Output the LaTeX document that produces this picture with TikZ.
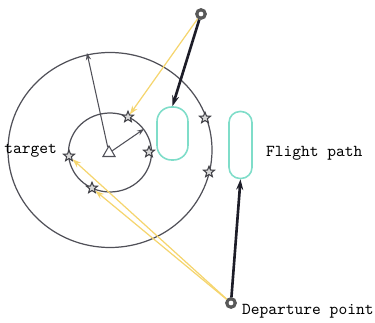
\documentclass[tikz,border=0pt]{standalone}
\usepackage{tikz}
\usetikzlibrary{arrows.meta, shapes.geometric}

\definecolor{ringgray}{HTML}{505058}
\definecolor{pathteal}{HTML}{7FDDC9}
\definecolor{lineyellow}{HTML}{F5D56E}
\definecolor{darkline}{HTML}{1D1D28}

\begin{document}
\begin{tikzpicture}[x=0.02cm, y=-0.02cm,
  sat/.style={star, star points=5, star point ratio=2.3, draw=ringgray!80!black, fill=gray!30, line width=0.6pt, minimum size=0.23cm, inner sep=0pt},
  waypoint/.style={circle, draw=gray!70!black, line width=1.8pt, minimum size=0.17cm, inner sep=0pt},
  flightbox/.style={draw=pathteal, line width=0.9pt, rectangle, inner sep=0pt},
  radius arrow/.style={draw=ringgray, line width=0.6pt, -{Stealth[length=4pt, width=3pt]}},
  aim/.style={draw=lineyellow, line width=0.7pt, -{Stealth[length=5pt, width=3.5pt]}},
  route/.style={draw=darkline, line width=1.5pt, -{Stealth[length=6pt, width=4pt]}},
  labeltext/.style={font=\ttfamily\fontsize{9.5}{11}\selectfont, text=black, inner sep=1pt}]
\useasboundingbox (0,0) rectangle (375,323);
\draw[ringgray, line width=0.7pt] (110,150) ellipse [x radius=102, y radius=97.5];
\draw[ringgray, line width=0.7pt] (110,152.5) ellipse [x radius=41.5, y radius=39.5];
\node[draw=ringgray, line width=0.6pt, regular polygon, regular polygon sides=3, minimum size=0.28cm, inner sep=0pt] (ctr) at (109,153) {};
\coordinate (outerpt) at (87,53);
\coordinate (innerpt) at (144,129);
\draw[radius arrow] (ctr) -- (outerpt);
\draw[radius arrow] (ctr) -- (innerpt);
\node[sat] (s1) at (128,117) {};
\node[sat] (s2) at (149,152) {};
\node[sat] (s3) at (69,156) {};
\node[sat] (s4) at (92,188) {};
\node[sat] (s5) at (205,118) {};
\node[sat] (s6) at (209,172) {};
\node[flightbox, minimum width=0.62cm, minimum height=1.06cm, rounded corners=0.29cm] (fp1) at (172.5,133.5) {};
\node[flightbox, minimum width=0.46cm, minimum height=1.34cm, rounded corners=0.22cm] (fp2) at (240.5,145) {};
\node[waypoint] (top) at (201,14) {};
\node[waypoint] (dep) at (231,303) {};
\draw[aim] (top) -- (s1);
\draw[aim] (dep) -- (s3);
\draw[aim] (dep) -- (s4);
\draw[route] (top) -- (fp1.north);
\draw[route] (dep) -- (fp2.south);
\node[labeltext, anchor=east] (tgt) at (59,151) {target};
\node[labeltext, anchor=west] (fpl) at (264,153) {Flight path};
\node[labeltext, anchor=west] (dpl) at (240,311) {Departure point};
\end{tikzpicture}
\end{document}
